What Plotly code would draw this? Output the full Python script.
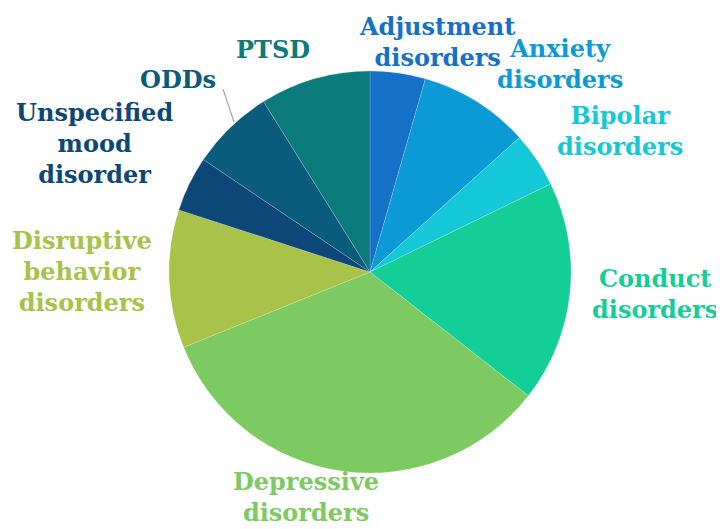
import plotly.graph_objects as go

W, H = 724, 529
OFF = 8  # page body margin: figure is drawn 8px in from the window corner

# Diagnoses (counts)
labels = ["Adjustment<br>disorders", "Anxiety<br>disorders", "Bipolar<br>disorders",
          "Conduct<br>disorders", "Depressive<br>disorders",
          "Disruptive<br>behavior<br>disorders", "Unspecified<br>mood<br>disorder",
          "ODDs", "PTSD"]
counts = [2, 4, 2, 8, 15, 5, 2, 3, 4]
colors = ["#1570C8", "#0B9AD6", "#14C8D8", "#13CE97", "#7DCA62",
          "#A8C24A", "#0C4777", "#0B5C7C", "#0B7B7B"]

# label centres in window pixels (layout only)
label_pos = [(437, 42), (560, 64), (620, 131), (655, 294), (306, 497),
             (82, 271), (94, 143), (178, 80), (273, 50)]


def px(x):
    return (x - OFF) / W


def py(y):
    return 1 - (y - OFF) / H


fig = go.Figure(go.Pie(
    labels=labels, values=counts,
    sort=False, direction="clockwise", rotation=0,
    marker=dict(colors=colors, line=dict(color="rgba(255,255,255,0.35)", width=0.5)),
    textinfo="none",
    domain=dict(x=[px(169), px(571)], y=[py(473), py(71)]),
    showlegend=False, hoverinfo="label+value+percent",
))

for lab, col, (lx, ly) in zip(labels, colors, label_pos):
    fig.add_annotation(
        text=lab, x=px(lx), y=py(ly), xref="paper", yref="paper",
        xanchor="center", yanchor="middle", showarrow=False, align="center",
        font=dict(family="DejaVu Serif", size=24, color=col, weight="bold"),
    )

# leader line for ODDs
fig.add_shape(type="line", xref="paper", yref="paper",
              x0=px(223), y0=py(89), x1=px(234), y1=py(122),
              line=dict(color="#A6A6A6", width=1.2))

fig.update_layout(
    width=W, height=H,
    paper_bgcolor="white", plot_bgcolor="white",
    margin=dict(l=0, r=0, t=0, b=0),
)

fig.write_html("out.html")
